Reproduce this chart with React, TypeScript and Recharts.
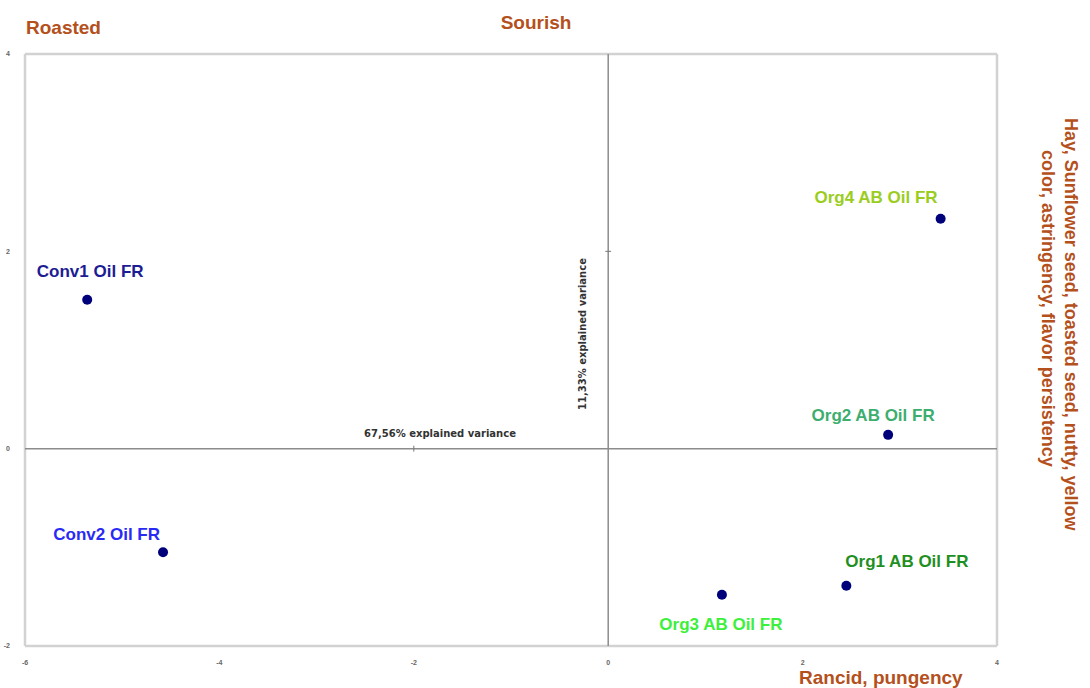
import React from 'react';
import {
  ScatterChart,
  Scatter,
  XAxis,
  YAxis,
  ReferenceLine
} from 'recharts';

// PCA scores (PC1 vs PC2)
const sampleNames = ['Conv1 Oil FR', 'Conv2 Oil FR', 'Org1 AB Oil FR', 'Org2 AB Oil FR', 'Org3 AB Oil FR', 'Org4 AB Oil FR'];
const pc1 = [-5.36, -4.58, 2.45, 2.88, 1.17, 3.42];
const pc2 = [1.51, -1.05, -1.39, 0.14, -1.48, 2.33];

const xTicks = [-6, -4, -2, 0, 2, 4];
const yTicks = [-2, 0, 2, 4];

const titleTop = 'Sourish';
const titleTopLeft = 'Roasted';
const titleBottom = 'Rancid, pungency';
const titleRight = ['Hay, Sunflower seed, toasted seed, nutty, yellow', 'color, astringency, flavor persistency'];
const pc1Label = '67,56% explained variance';
const pc2Label = '11,33% explained variance';

// label look, keyed by sample
const labelStyle: Record<string, { color: string; anchor: 'start' | 'middle' | 'end'; dx: number; dy: number }> = {
  'Conv1 Oil FR': { color: '#1c1c94', anchor: 'middle', dx: 3, dy: -23 },
  'Conv2 Oil FR': { color: '#2a2af5', anchor: 'end', dx: -3, dy: -12 },
  'Org1 AB Oil FR': { color: '#1f8f1f', anchor: 'start', dx: -1, dy: -19 },
  'Org2 AB Oil FR': { color: '#3dae6f', anchor: 'middle', dx: -15, dy: -14 },
  'Org3 AB Oil FR': { color: '#3cf03c', anchor: 'middle', dx: -1, dy: 35 },
  'Org4 AB Oil FR': { color: '#9acd1e', anchor: 'end', dx: -3, dy: -16 },
};

const data = sampleNames.map((name, i) => ({ name, x: pc1[i], y: pc2[i] }));

const FONT = '"Liberation Sans", Arial, sans-serif';
const SMALL_FONT = '"DejaVu Sans", Verdana, sans-serif';
const BROWN = '#b4501c';

const PointShape = (props: any) => {
  const { cx, cy, payload } = props;
  const s = labelStyle[payload.name];
  return (
    <g>
      <circle cx={cx} cy={cy} r={5} fill="#00007a" />
      <text
        x={cx + s.dx}
        y={cy + s.dy}
        textAnchor={s.anchor}
        fill={s.color}
        fontSize={17}
        fontWeight="bold"
        fontFamily={FONT}
      >
        {payload.name}
      </text>
    </g>
  );
};

export default function App() {
  return (
    <div style={{ position: 'absolute', top: 0, left: 0, width: 1090, height: 688, background: '#fff' }}>
      <ScatterChart
        width={1090}
        height={688}
        margin={{ top: 54, right: 93, bottom: 22, left: 5 }}
      >
        <XAxis
          type="number"
          dataKey="x"
          domain={[-6, 4]}
          ticks={xTicks}
          height={20}
          tickLine={false}
          axisLine={false}
          tickMargin={8}
          allowDataOverflow
          tick={{ fontSize: 7, fill: '#666', fontFamily: FONT, fontWeight: 'bold' }}
        />
        <YAxis
          type="number"
          dataKey="y"
          domain={[-2, 4]}
          ticks={yTicks}
          width={20}
          tickLine={false}
          axisLine={false}
          tickMargin={9}
          allowDataOverflow
          tick={{ fontSize: 7, fill: '#666', fontFamily: FONT, fontWeight: 'bold' }}
        />
        <ReferenceLine x={-6} stroke="#d2d2d2" strokeWidth={2.5} />
        <ReferenceLine x={4} stroke="#d2d2d2" strokeWidth={2.5} />
        <ReferenceLine y={-2} stroke="#d2d2d2" strokeWidth={2.5} />
        <ReferenceLine y={4} stroke="#d2d2d2" strokeWidth={2.5} />
        <ReferenceLine x={0} stroke="#8c8c8c" strokeWidth={1.5} />
        <ReferenceLine y={0} stroke="#8c8c8c" strokeWidth={1.5} />
        <ReferenceLine segment={[{ x: -2, y: -0.03 }, { x: -2, y: 0.03 }]} stroke="#777" />
        <ReferenceLine segment={[{ x: -0.03, y: 2 }, { x: 0.03, y: 2 }]} stroke="#777" />
        <Scatter data={data} shape={PointShape} isAnimationActive={false} />
      </ScatterChart>
      <svg
        width={1090}
        height={688}
        style={{ position: 'absolute', top: 0, left: 0, pointerEvents: 'none' }}
        fontFamily={FONT}
        fontWeight="bold"
      >
        <text x={26} y={34} fontSize={19} fill={BROWN}>{titleTopLeft}</text>
        <text x={536} y={29} fontSize={19} fill={BROWN} textAnchor="middle">{titleTop}</text>
        <text x={799} y={684} fontSize={19} fill={BROWN}>{titleBottom}</text>
        <text transform="translate(1065,118) rotate(90)" fontSize={18} fill={BROWN}>{titleRight[0]}</text>
        <text transform="translate(1042,150) rotate(90)" fontSize={18} fill={BROWN}>{titleRight[1]}</text>
        <text x={440} y={437} fontSize={10} fill="#333" textAnchor="middle" fontFamily={SMALL_FONT}>{pc1Label}</text>
        <text transform="translate(586,334) rotate(-90)" fontSize={10} fill="#333" textAnchor="middle" fontFamily={SMALL_FONT}>{pc2Label}</text>
      </svg>
    </div>
  );
}
